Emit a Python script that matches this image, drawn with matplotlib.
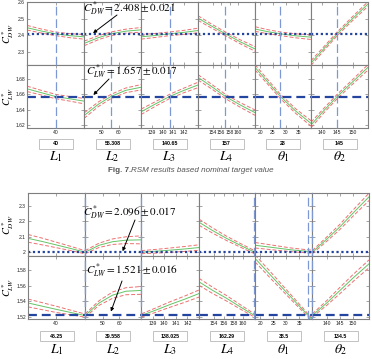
import numpy as np
import matplotlib
matplotlib.use('Agg')
import matplotlib.pyplot as plt
from matplotlib.patches import Rectangle
import logging

logging.getLogger('matplotlib.font_manager').setLevel(logging.ERROR)
plt.rcParams['mathtext.fontset'] = 'stix'
plt.rcParams['font.family'] = ['Liberation Sans', 'DejaVu Sans']

W, H = 372, 359

factor_labels = [r'$L_1$', r'$L_2$', r'$L_3$', r'$L_4$', r'$\theta_1$', r'$\theta_2$']
factor_ticks = [[40], [50, 60], [139, 140, 141, 142], [154, 156, 158, 160],
                [20, 25, 30, 35], [140, 145, 150]]

# upper profiler: nominal target
nom_xlim = [(35, 45), (39.5, 73), (138, 143.3), (150.5, 164), (18, 40), (136.5, 155)]
nom_setting = [40, 55.308, 140.65, 157, 28, 145]
nom_setting_text = ['40', '55.308', '140.65', '157', '28', '145']
nom_x = [[35, 37.5, 40, 42.5, 45],
         [39.5, 48, 55.3, 64, 73],
         [138, 139.3, 140.65, 142, 143.3],
         [150.5, 153.7, 157, 160.5, 164],
         [18, 23, 28, 34, 40],
         [136.5, 140.75, 145, 150, 155]]
nom_dw = [[2.445, 2.425, 2.408, 2.397, 2.39],
          [2.35, 2.385, 2.408, 2.424, 2.432],
          [2.39, 2.398, 2.408, 2.417, 2.428],
          [2.503, 2.455, 2.408, 2.36, 2.317],
          [2.437, 2.421, 2.408, 2.396, 2.388],
          [2.232, 2.32, 2.408, 2.5, 2.588]]
nom_dw_ci = [[0.014, 0.012, 0.011, 0.012, 0.014]] * 6
nom_lw = [[1.667, 1.662, 1.657, 1.654, 1.651],
          [1.632, 1.647, 1.657, 1.665, 1.669],
          [1.637, 1.647, 1.657, 1.665, 1.672],
          [1.682, 1.67, 1.657, 1.646, 1.636],
          [1.695, 1.676, 1.657, 1.638, 1.622],
          [1.62, 1.639, 1.657, 1.676, 1.695]]
nom_lw_ci = [[0.0035, 0.003, 0.0028, 0.003, 0.0035]] * 6
nom_dw_line, nom_dw_val, nom_dw_tol = 2.408, 2.408, 0.021
nom_lw_line, nom_lw_val, nom_lw_tol = 1.657, 1.657, 0.017

# lower profiler
opt_xlim = [(35, 45.3), (39.5, 73), (138, 143), (151, 162.4), (18, 40), (134.4, 156)]
opt_setting = [45.25, 39.558, 138.025, 162.29, 38.5, 134.5]
opt_setting_text = ['45.25', '39.558', '138.025', '162.29', '38.5', '134.5']
opt_x = [[35, 37.5, 40, 42.6, 45.25],
         [39.558, 48, 56, 64, 73],
         [138.025, 139.3, 140.5, 141.8, 143],
         [151, 153.8, 156.6, 159.4, 162.29],
         [18, 25, 32, 38.5, 40],
         [134.5, 140, 145, 150, 156]]
opt_dw = [[2.09, 2.07, 2.048, 2.025, 2.0],
          [2.0, 2.045, 2.068, 2.078, 2.08],
          [2.0, 2.006, 2.013, 2.021, 2.03],
          [2.195, 2.14, 2.09, 2.045, 2.0],
          [2.045, 2.03, 2.015, 2.005, 2.004],
          [2.0, 2.085, 2.165, 2.255, 2.36]]
opt_dw_ci = [[0.025, 0.022, 0.018, 0.014, 0.01],
             [0.01, 0.014, 0.018, 0.022, 0.026],
             [0.01, 0.012, 0.014, 0.016, 0.018],
             [0.02, 0.017, 0.014, 0.012, 0.01],
             [0.018, 0.015, 0.012, 0.01, 0.01],
             [0.01, 0.014, 0.017, 0.02, 0.024]]
opt_lw = [[1.538, 1.534, 1.53, 1.526, 1.522],
          [1.522, 1.538, 1.548, 1.553, 1.554],
          [1.522, 1.529, 1.536, 1.543, 1.55],
          [1.565, 1.554, 1.544, 1.533, 1.522],
          [1.595, 1.57, 1.545, 1.522, 1.517],
          [1.522, 1.538, 1.554, 1.57, 1.588]]
opt_lw_ci = [[0.005, 0.0045, 0.004, 0.003, 0.002],
             [0.002, 0.003, 0.004, 0.0045, 0.005],
             [0.002, 0.0028, 0.0035, 0.004, 0.0045],
             [0.0045, 0.004, 0.0035, 0.0028, 0.002],
             [0.0045, 0.004, 0.003, 0.002, 0.002],
             [0.002, 0.003, 0.004, 0.0045, 0.005]]
opt_dw_line, opt_dw_val, opt_dw_tol = 2.0, 2.096, 0.017
opt_lw_line, opt_lw_val, opt_lw_tol = 1.522, 1.521, 0.016

GREEN = '#66c466'
RED = '#ee7070'
VBLUE = '#7d98d2'
HBLUE = '#23449f'
GREY = '#7f7f7f'
TICK_FONT = ['Liberation Sans Narrow', 'Liberation Sans', 'DejaVu Sans']


def px_axes(fig, x0, x1, y0, y1):
    return fig.add_axes([x0 / W, 1 - y1 / H, (x1 - x0) / W, (y1 - y0) / H])


def draw_profiler(fig, x_edges, y_edges, xlims, settings, setting_text, xs, rows,
                  box_y, label_y, ylab_x):
    axes = []
    for r, row in enumerate(rows):
        ys, cis, hline, ylim, yticks, yticklabels, hstyle, ylabel = row
        row_axes = []
        for i in range(6):
            ax = px_axes(fig, x_edges[i], x_edges[i + 1], y_edges[r], y_edges[r + 1])
            x = np.array(xs[i])
            y = np.array(ys[i])
            ci = np.array(cis[i])
            ax.plot(x, y + ci, color=RED, lw=0.7, dashes=(4, 2))
            ax.plot(x, y - ci, color=RED, lw=0.7, dashes=(4, 2))
            ax.plot(x, y, color=GREEN, lw=0.7)
            ax.axhline(hline, color=HBLUE, **hstyle)
            ax.axvline(settings[i], color=VBLUE, lw=0.9, dashes=(7, 3),
                       clip_on=False, zorder=3)
            ax.set_xlim(*xlims[i])
            ax.set_ylim(*ylim)
            ax.set_xticks(factor_ticks[i])
            ax.set_yticks(yticks)
            ax.tick_params(direction='in', length=2, width=0.5, color=GREY,
                           labelcolor='#222222', top=True, right=True,
                           labelsize=3.6, pad=1.5)
            if r == 0:
                ax.set_xticklabels([])
            if i == 0:
                ax.set_yticklabels(yticklabels)
            else:
                ax.set_yticklabels([])
            for lab in ax.get_xticklabels() + ax.get_yticklabels():
                lab.set_family(TICK_FONT)
            for s in ax.spines.values():
                s.set_color(GREY)
                s.set_linewidth(0.8)
            row_axes.append(ax)
        yc = (y_edges[r] + y_edges[r + 1]) / 2
        fig.text(ylab_x / W, 1 - yc / H, ylabel, rotation=90, ha='center', va='center',
                 fontsize=7.5)
        axes.append(row_axes)

    for i in range(6):
        xc = (x_edges[i] + x_edges[i + 1]) / 2
        fig.add_artist(Rectangle(((xc - 17) / W, 1 - (box_y + 10) / H), 34 / W, 10 / H,
                                 transform=fig.transFigure, facecolor='white',
                                 edgecolor='#b8b8b8', lw=0.6))
        fig.text(xc / W, 1 - (box_y + 5) / H, setting_text[i], ha='center', va='center',
                 fontsize=3.8, fontweight='bold', family=TICK_FONT)
        fig.text(xc / W, 1 - label_y / H, factor_labels[i], ha='center', va='center',
                 fontsize=10)
    return axes


def note(fig, ax, text, text_xy, tail, tip):
    fig.text(text_xy[0] / W, 1 - text_xy[1] / H, text, ha='left', va='center',
             fontsize=8, zorder=10)
    ax.annotate('', xy=tip, xycoords='data', xytext=(tail[0], H - tail[1]),
                textcoords='figure pixels',
                arrowprops=dict(arrowstyle='-|>', color='k', lw=0.7,
                                mutation_scale=5, shrinkA=0, shrinkB=0))


dotted = dict(lw=1.6, linestyle=(0, (1, 1.2)))
dashed = dict(lw=1.6, dashes=(4, 2.2))

fig = plt.figure(figsize=(W / 100, H / 100), dpi=100)

top = draw_profiler(
    fig, [27, 84, 141, 198, 255, 311, 368], [2, 65, 128], nom_xlim, nom_setting,
    nom_setting_text, nom_x,
    [(nom_dw, nom_dw_ci, nom_dw_line, (2.22, 2.6), [2.3, 2.4, 2.5, 2.6],
      ['2.3', '2.4', '2.5', '2.6'], dotted, r'$C^*_{DW}$'),
     (nom_lw, nom_lw_ci, nom_lw_line, (1.616, 1.698), [1.62, 1.64, 1.66, 1.68],
      ['1.62', '1.64', '1.66', '1.68'], dashed, r'$C^*_{LW}$')],
    139, 157, 8)

bottom = draw_profiler(
    fig, [28, 85, 141, 199, 255, 312, 369], [193, 256, 319], opt_xlim, opt_setting,
    opt_setting_text, opt_x,
    [(opt_dw, opt_dw_ci, opt_dw_line, (1.975, 2.385), [2.0, 2.1, 2.2, 2.3],
      ['2', '2.1', '2.2', '2.3'], dotted, r'$C^*_{DW}$'),
     (opt_lw, opt_lw_ci, opt_lw_line, (1.5175, 1.598), [1.52, 1.54, 1.56, 1.58],
      ['1.52', '1.54', '1.56', '1.58'], dashed, r'$C^*_{LW}$')],
    331, 350, 8)

note(fig, top[0][1], rf'$C^*_{{DW}} = {nom_dw_val:.3f} \pm {nom_dw_tol:.3f}$',
     (83, 9), (117, 15), (44.8, nom_dw_line + 0.004))
note(fig, top[1][1], rf'$C^*_{{LW}} = {nom_lw_val:.3f} \pm {nom_lw_tol:.3f}$',
     (86, 72), (109, 79), (45.0, nom_lw_line + 0.002))
note(fig, bottom[0][1], rf'$C^*_{{DW}} = {opt_dw_val:.3f} \pm {opt_dw_tol:.3f}$',
     (83, 213), (135, 220), (62.0, opt_dw_line + 0.006))
note(fig, bottom[1][1], rf'$C^*_{{LW}} = {opt_lw_val:.3f} \pm {opt_lw_tol:.3f}$',
     (86, 271), (122, 281), (55.0, opt_lw_line + 0.005))

fig.text(108 / W, 1 - 171 / H, 'Fig. 7.', ha='left', va='center', fontsize=5.8,
         fontweight='bold', color='#555555')
fig.text(131 / W, 1 - 171 / H, 'RSM results based nominal target value', ha='left',
         va='center', fontsize=5.8, fontstyle='italic', color='#555555')

fig.savefig('out.png', dpi=100)
